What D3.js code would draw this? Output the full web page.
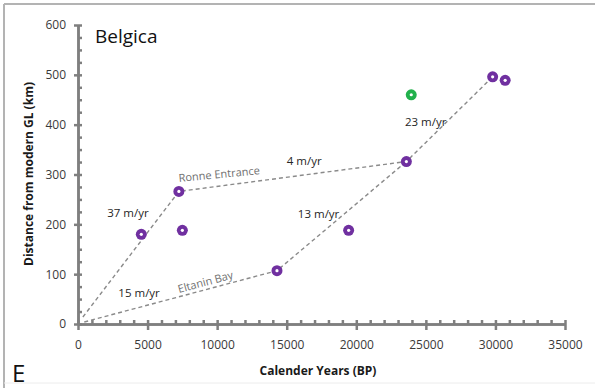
<!DOCTYPE html>
<html>
<head>
<meta charset="utf-8">
<script src="https://cdn.jsdelivr.net/npm/d3@7"></script>
<style>
  body { margin: 0; background: #fff; }
  text { font-family: "Open Sans", sans-serif; }
</style>
</head>
<body>
<svg id="chart" width="595" height="388"></svg>
<script>
// Belgica trough - grounding line retreat
var xTicks = [0, 5000, 10000, 15000, 20000, 25000, 30000, 35000];
var yTicks = [0, 100, 200, 300, 400, 500, 600];

// purple dated samples [years BP, km]
var samples = [
  [4550, 180], [7500, 188], [7250, 266], [14300, 107],
  [19450, 188], [23600, 326], [29800, 496], [30700, 489]
];
// green outlier
var outliers = [[23950, 460]];

// dashed retreat paths
var ronnePath = [[350, 14], [7250, 266], [23600, 326], [29800, 496]];
var eltaninPath = [[450, 4], [14300, 107], [23600, 326]];

var rateLabels = ['37 m/yr', '4 m/yr', '23 m/yr', '13 m/yr', '15 m/yr'];
var rateAt = [[2100, 215], [15000, 320], [23500, 398], [15800, 213], [2900, 54]];
var pathNames = ['Ronne Entrance', 'Eltanin Bay'];

var svg = d3.select('#chart');

var x = d3.scaleLinear().domain([0, 35000]).range([78, 565]);
var y = d3.scaleLinear().domain([0, 600]).range([324, 25]);

// frame
svg.append('line').attr('x1', 4).attr('x2', 595).attr('y1', 4).attr('y2', 4)
  .attr('stroke', '#b3b3b3').attr('stroke-width', 2);
svg.append('line').attr('x1', 4).attr('x2', 4).attr('y1', 4).attr('y2', 388)
  .attr('stroke', '#b3b3b3').attr('stroke-width', 2);
svg.append('line').attr('x1', 4).attr('x2', 595).attr('y1', 383).attr('y2', 383)
  .attr('stroke', '#ececec').attr('stroke-width', 1);

var axisColor = '#7f7f7f';

// minor ticks
var xMinor = d3.range(0, 35001, 1000).filter(function(d) { return d % 5000 !== 0; });
var yMinor = d3.range(0, 601, 25).filter(function(d) { return d % 100 !== 0; });

var gxm = svg.append('g').attr('transform', 'translate(0,' + y(0) + ')')
  .call(d3.axisBottom(x).tickValues(xMinor).tickSizeInner(-4).tickSizeOuter(0).tickFormat(''));
var gym = svg.append('g').attr('transform', 'translate(' + x(0) + ',0)')
  .call(d3.axisLeft(y).tickValues(yMinor).tickSizeInner(-4).tickSizeOuter(0).tickFormat(''));

var gx = svg.append('g').attr('transform', 'translate(0,' + y(0) + ')')
  .call(d3.axisBottom(x).tickValues(xTicks).tickSizeInner(6).tickSizeOuter(0).tickPadding(10).tickFormat(d3.format('d')));
gx.selectAll('.tick line').attr('y1', -4);

var gy = svg.append('g').attr('transform', 'translate(' + x(0) + ',0)')
  .call(d3.axisLeft(y).tickValues(yTicks).tickSizeInner(4).tickSizeOuter(0).tickPadding(8));
gy.selectAll('.tick line').attr('x1', 4);

[gxm, gym, gx, gy].forEach(function(g) {
  g.select('.domain').attr('stroke', axisColor).attr('stroke-width', 2.5);
  g.selectAll('.tick line').attr('stroke', axisColor).attr('stroke-width', 2.5);
  g.selectAll('.tick text').attr('fill', '#3a3a3a').style('font-size', '12px')
    .style('font-family', '"Open Sans", sans-serif');
});

// dashed paths
var line = d3.line().x(function(d) { return x(d[0]); }).y(function(d) { return y(d[1]); });
[ronnePath, eltaninPath].forEach(function(p) {
  svg.append('path').datum(p).attr('d', line)
    .attr('fill', 'none').attr('stroke', '#8a8a8a').attr('stroke-width', 1.4)
    .attr('stroke-dasharray', '4,3');
});

// markers
function ring(data, color) {
  var g = svg.append('g');
  g.selectAll('circle.o').data(data).enter().append('circle')
    .attr('cx', function(d) { return x(d[0]); })
    .attr('cy', function(d) { return y(d[1]); })
    .attr('r', 5.5).attr('fill', color);
  g.selectAll('circle.i').data(data).enter().append('circle')
    .attr('cx', function(d) { return x(d[0]); })
    .attr('cy', function(d) { return y(d[1]); })
    .attr('r', 1.6).attr('fill', '#fff');
}
ring(samples, '#7030a0');
ring(outliers, '#22b14c');

// rate labels
svg.selectAll('text.rate').data(rateLabels).enter().append('text')
  .attr('class', 'rate')
  .attr('x', function(d, i) { return x(rateAt[i][0]); })
  .attr('y', function(d, i) { return y(rateAt[i][1]); })
  .attr('fill', '#262626').style('font-size', '11.5px')
  .text(function(d) { return d; });

// path names
svg.append('text').attr('transform', 'translate(179,182) rotate(-5.5)')
  .attr('fill', '#707070').style('font-size', '11px').text(pathNames[0]);
svg.append('text').attr('transform', 'translate(179,293) rotate(-15)')
  .attr('fill', '#707070').style('font-size', '11px').text(pathNames[1]);

// titles
svg.append('text').attr('x', 95).attr('y', 43).attr('fill', '#111')
  .style('font-size', '19px').text('Belgica');
svg.append('text').attr('x', 318).attr('y', 375).attr('text-anchor', 'middle')
  .attr('fill', '#1a1a1a').style('font-size', '12px').style('font-weight', 'bold')
  .text('Calender Years (BP)');
svg.append('text').attr('transform', 'translate(33,174) rotate(-90)')
  .attr('text-anchor', 'middle').attr('fill', '#1a1a1a')
  .style('font-size', '12px').style('font-weight', 'bold')
  .text('Distance from modern GL (km)');
svg.append('text').attr('x', 12).attr('y', 382).attr('fill', '#111')
  .style('font-size', '24px').text('E');
</script>
</body>
</html>
